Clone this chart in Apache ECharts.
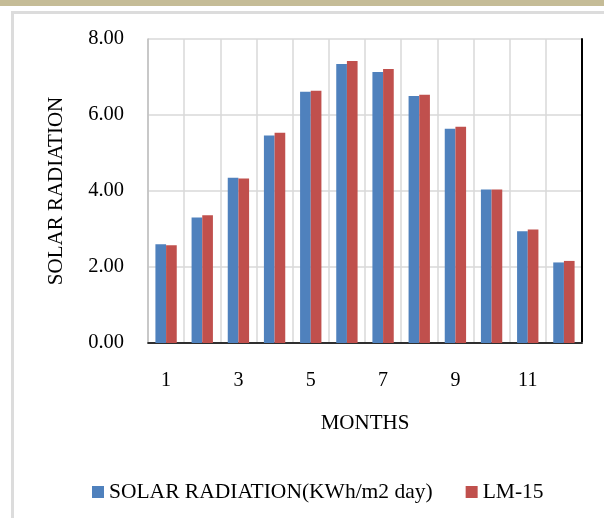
<!DOCTYPE html>
<html>
<head>
<meta charset="utf-8">
<script src="https://cdn.jsdelivr.net/npm/echarts@6/dist/echarts.min.js"></script>
<style>
html,body{margin:0;padding:0;background:#fff;}
#c{width:604px;height:518px;}
</style>
</head>
<body>
<div id="c"></div>
<script>
const months = ['1','2','3','4','5','6','7','8','9','10','11','12'];
const solarRadiation = [2.60, 3.30, 4.35, 5.46, 6.61, 7.34, 7.13, 6.50, 5.64, 4.04, 2.94, 2.12];
const lm15 = [2.57, 3.36, 4.33, 5.53, 6.64, 7.42, 7.21, 6.53, 5.69, 4.04, 2.99, 2.16];
const yTicks = [0, 2, 4, 6, 8];
const seriesNames = ['SOLAR RADIATION(KWh/m2 day)', 'LM-15'];

const font = '"Liberation Serif", "Times New Roman", serif';
const chart = echarts.init(document.getElementById('c'));
chart.setOption({
  backgroundColor: '#ffffff',
  animation: false,
  graphic: [
    { type: 'rect', left: 0, top: 0, shape: { width: 604, height: 6 }, style: { fill: '#c5bc97' }, silent: true },
    { type: 'rect', left: 10, top: 10, shape: { width: 620, height: 540 }, style: { fill: 'none', stroke: '#dcdcdc', lineWidth: 3 }, silent: true }
  ],
  grid: { left: 148, right: 22, top: 39, bottom: 175, containLabel: false },
  legend: {
    data: seriesNames,
    left: 87,
    top: 476,
    itemWidth: 12,
    itemHeight: 12,
    itemGap: 33,
    icon: 'rect',
    textStyle: { fontFamily: font, fontSize: 21.5, color: '#000' }
  },
  xAxis: [{
    type: 'category',
    data: months,
    name: 'MONTHS',
    nameLocation: 'middle',
    nameGap: 70,
    nameTextStyle: { fontFamily: font, fontSize: 21, color: '#000' },
    axisLine: { show: true, lineStyle: { color: '#bfbfbf', width: 2 } },
    axisTick: { show: false },
    axisLabel: { interval: 1, margin: 28, fontFamily: font, fontSize: 20, color: '#000' },
    splitLine: { show: true, interval: 0, lineStyle: { color: '#d9d9d9', width: 1.5 } }
  }, {
    type: 'category',
    data: months,
    position: 'top',
    axisLine: { show: true, lineStyle: { color: '#000', width: 1.5 } },
    axisTick: { show: false },
    axisLabel: { show: false },
    splitLine: { show: false }
  }],
  yAxis: [{
    type: 'value',
    min: yTicks[0],
    max: yTicks[yTicks.length - 1],
    interval: 2,
    name: 'SOLAR RADIATION',
    nameLocation: 'middle',
    nameGap: 81,
    nameTextStyle: { fontFamily: font, fontSize: 21, color: '#000' },
    axisLine: { show: true, lineStyle: { color: '#bfbfbf', width: 1.5 } },
    axisTick: { show: false },
    axisLabel: { margin: 24, fontFamily: font, fontSize: 20.5, color: '#000', formatter: v => v.toFixed(2) },
    splitLine: { show: true, lineStyle: { color: '#d9d9d9', width: 1.5 } }
  }, {
    type: 'value',
    min: yTicks[0],
    max: yTicks[yTicks.length - 1],
    position: 'right',
    axisLine: { show: true, lineStyle: { color: '#000', width: 2 } },
    axisTick: { show: false },
    axisLabel: { show: false },
    splitLine: { show: false }
  }],
  series: [{
    name: seriesNames[0],
    type: 'bar',
    data: solarRadiation,
    barGap: '0%',
    barCategoryGap: '41%',
    itemStyle: { color: '#4f81bd' }
  }, {
    name: seriesNames[1],
    type: 'bar',
    data: lm15,
    barGap: '0%',
    barCategoryGap: '41%',
    itemStyle: { color: '#c0504d' }
  }]
});
</script>
</body>
</html>
